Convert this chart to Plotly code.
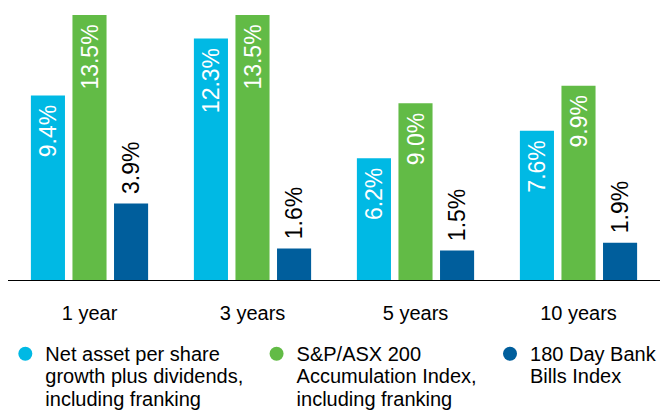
import plotly.graph_objects as go

categories = ["1 year", "3 years", "5 years", "10 years"]
nav_growth = [9.4, 12.3, 6.2, 7.6]
asx200 = [13.5, 13.5, 9.0, 9.9]
bank_bills = [3.9, 1.6, 1.5, 1.9]

series_names = [
    ["Net asset per share", "growth plus dividends,", "including franking"],
    ["S&P/ASX 200", "Accumulation Index,", "including franking"],
    ["180 Day Bank", "Bills Index"],
]
colors = ["#00B9E4", "#62BB46", "#005E9C"]
label_inside = [True, True, False]

NB = "\u00a0"
fig = go.Figure()
for vals, color, inside in zip([nav_growth, asx200, bank_bills], colors, label_inside):
    if inside:
        texts = [f"{v:.1f}%{NB}" for v in vals]
    else:
        texts = [f"{NB}{v:.1f}%" for v in vals]
    fig.add_trace(go.Bar(
        x=categories, y=vals, marker_color=color, marker_line_width=0,
        text=texts, textposition="inside" if inside else "outside",
        insidetextanchor="end", textangle=-90,
        insidetextfont=dict(color="white", size=23, family="Liberation Sans, Arial"),
        outsidetextfont=dict(color="black", size=23, family="Liberation Sans, Arial"),
        constraintext="none", cliponaxis=False, showlegend=False, hoverinfo="skip",
    ))

n_series = len(series_names)
for i, (name_lines, color) in enumerate(zip(series_names, colors)):
    pad = f"<span style='font-size:30px'>{NB}</span>" if i < n_series - 1 else ""
    label = "<br>".join(f"<span style='font-size:20px'>{s}</span>{pad}" for s in name_lines)
    fig.add_trace(go.Scatter(
        x=[None], y=[None], mode="markers", name=label,
        marker=dict(symbol="circle", size=14, color=color),
    ))

fig.update_layout(
    width=661, height=410,
    margin=dict(l=8, r=1, t=15, b=130, autoexpand=False),
    paper_bgcolor="white", plot_bgcolor="white",
    barmode="group", bargap=0.235, bargroupgap=0.18,
    font=dict(family="Liberation Sans, Arial", color="black"),
    xaxis=dict(
        type="category", categoryorder="array", categoryarray=categories,
        showline=True, linecolor="black", linewidth=1,
        ticks="outside", ticklen=15, tickcolor="rgba(0,0,0,0)",
        tickfont=dict(size=20, color="black"), showgrid=False,
    ),
    yaxis=dict(range=[0, 13.5], visible=False, showgrid=False),
    legend=dict(
        orientation="h", x=-0.0041, xanchor="left",
        y=-0.211, yanchor="top",
        font=dict(size=17.5, color="black"), valign="top",
        bgcolor="rgba(0,0,0,0)",
    ),
)

fig.write_html(
    "out.html",
    config={"displayModeBar": False},
    post_script="document.body.style.margin='0';",
)
